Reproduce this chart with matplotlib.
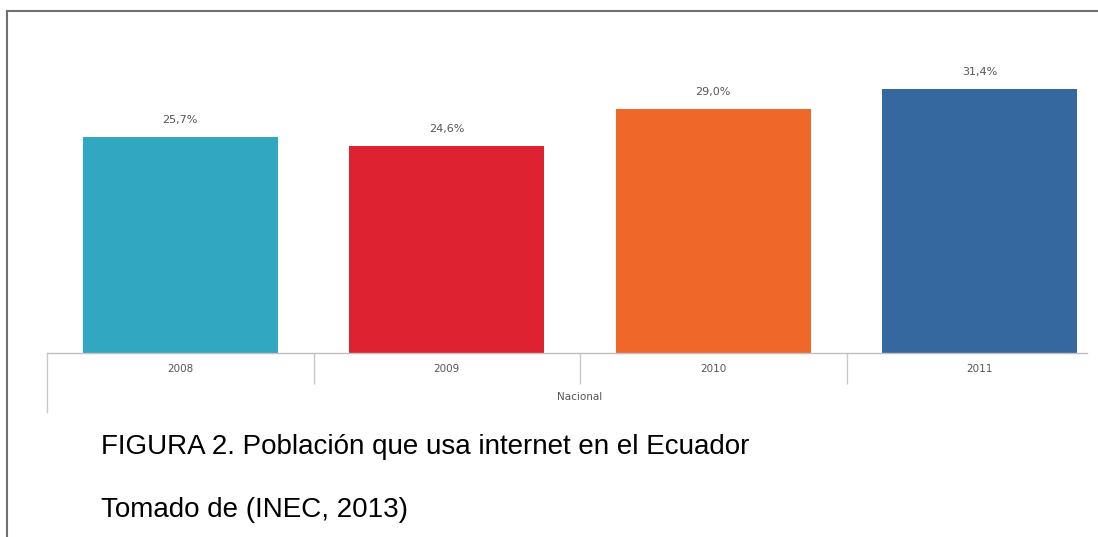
import matplotlib
matplotlib.use("Agg")
import matplotlib.pyplot as plt
from matplotlib.lines import Line2D

years = ["2008", "2009", "2010", "2011"]
usage = [25.7, 24.6, 29.0, 31.4]
labels = ["25,7%", "24,6%", "29,0%", "31,4%"]
colors = ["#31a7c2", "#de2232", "#f0672a", "#35689f"]
group_name = "Nacional"
caption = "FIGURA 2. Población que usa internet en el Ecuador"
source = "Tomado de (INEC, 2013)"


def main():
    W, H = 1098, 537
    fig = plt.figure(figsize=(W / 100, H / 100), dpi=100)
    fig.patch.set_facecolor("white")

    # axes placed in pixel terms: baseline at y=353, left edge x=47
    left, right, base, top = 47, 1087, 353, 30
    ax = fig.add_axes([left / W, (H - base) / H, (right - left) / W, (base - top) / H])
    px_per_unit = 8.4
    ax.set_ylim(0, (base - top) / px_per_unit)
    cat_w = 266.5
    ax.set_xlim(-0.5, -0.5 + (right - left) / cat_w)

    x = list(range(len(years)))
    bars = ax.bar(x, usage, width=0.73, color=colors, zorder=2)
    for b, lab in zip(bars, labels):
        ax.annotate(lab, (b.get_x() + b.get_width() / 2, b.get_height()),
                    xytext=(0, 9), textcoords="offset points",
                    ha="center", va="bottom", fontsize=8, color="#555555",
                    family="DejaVu Sans")

    for s in ["top", "right", "left"]:
        ax.spines[s].set_visible(False)
    ax.spines["bottom"].set_color("#c0c0c0")
    ax.spines["bottom"].set_linewidth(1)
    ax.set_yticks([])

    # category separators
    ax.set_xticks([0.5, 1.5, 2.5])
    ax.set_xticklabels([])
    ax.tick_params(axis="x", which="major", length=22, color="#c8c8c8", width=1)
    ax.set_xticks(x, minor=True)
    ax.set_xticklabels(years, minor=True, fontsize=7.5, color="#555555")
    ax.tick_params(axis="x", which="minor", length=0, pad=8)

    # left boundary of the category box
    ax.add_line(Line2D([-0.5, -0.5], [0, -(412 - base) / px_per_unit],
                       color="#c8c8c8", lw=1, clip_on=False))
    ax.text(1.5, -(397 - base) / px_per_unit, group_name, ha="center", va="center",
            fontsize=7.5, color="#555555", clip_on=False)

    # caption
    fig.text(101 / W, (H - 454) / H, caption, fontsize=20, family="Liberation Sans",
             va="baseline", ha="left", color="black")
    fig.text(101 / W, (H - 517) / H, source, fontsize=20, family="Liberation Sans",
             va="baseline", ha="left", color="black")

    # page frame
    fy = 1 - 11 / H
    fx = 7 / W
    fig.add_artist(Line2D([fx, 1], [fy, fy], transform=fig.transFigure,
                          color="#707070", lw=1.5))
    fig.add_artist(Line2D([fx, fx], [0, fy], transform=fig.transFigure,
                          color="#707070", lw=1.5))

    fig.savefig("out.png", dpi=100)


if __name__ == "__main__":
    main()
